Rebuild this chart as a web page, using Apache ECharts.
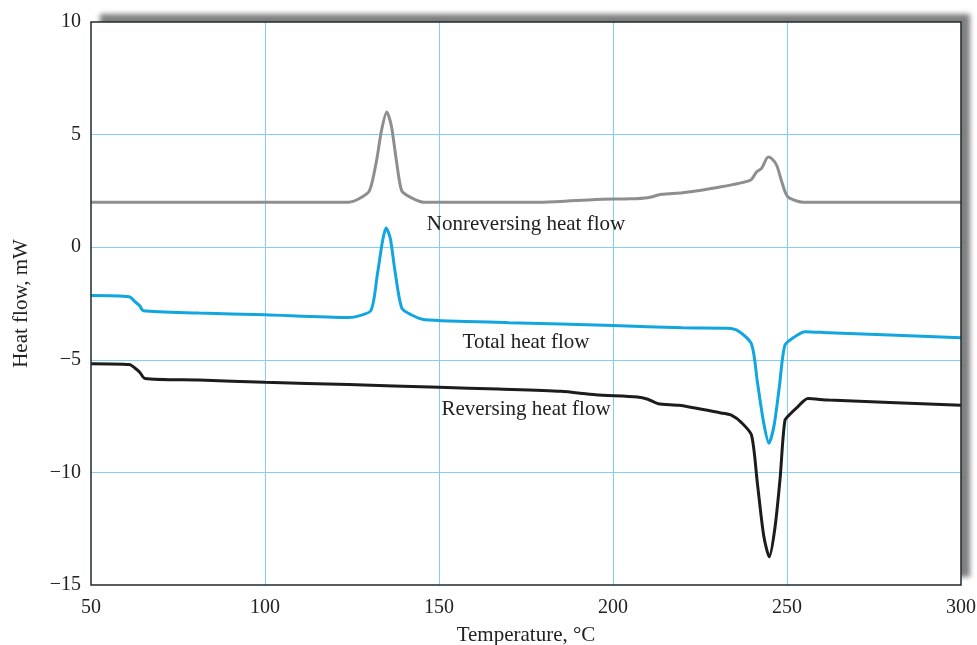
<!DOCTYPE html>
<html>
  <head>
    <meta charset="UTF-8" />
    <title>Heat flow</title>
    <script src="https://cdn.jsdelivr.net/npm/echarts@6.0.0/dist/echarts.min.js"></script>
    <style>
      body { margin: 0; background: #fff; }
    </style>
  </head>
  <body>
    <div id="chart" style="width: 977px; height: 645px"></div>
  </body>
  <script>
    // [temperature °C, heat flow mW]
    const nonreversing = [
      [50, 2.0], [124, 2.0], [127, 2.15], [130, 2.5], [132, 3.8], [133.5, 5.2], [135, 6.0],
      [136.3, 5.4], [137.8, 3.8], [139.3, 2.5], [142, 2.2], [145.5, 2.0], [180, 2.0],
      [195, 2.12], [205, 2.15], [210, 2.2], [214, 2.35], [220, 2.42], [230, 2.65],
      [239.5, 2.98], [241.3, 3.35], [242.7, 3.5], [244.6, 4.0], [245.5, 3.95], [247, 3.65],
      [248.5, 2.9], [249.6, 2.4], [250.5, 2.2], [254.6, 2.0], [300, 2.0]
    ];
    const total = [
      [50, -2.15], [61, -2.2], [62.5, -2.4], [64, -2.6], [65, -2.82], [81, -2.92], [100, -3.0],
      [124, -3.12], [127, -3.05], [130.5, -2.8], [132.3, -1.2], [133.8, 0.3], [134.8, 0.85],
      [136, 0.4], [137.3, -1.0], [139.3, -2.7], [142, -3.0], [146, -3.22], [170, -3.35],
      [200, -3.48], [220, -3.58], [233, -3.6], [236, -3.72], [239.8, -4.3], [241.5, -6.0],
      [243.3, -7.8], [244.8, -8.7], [246.3, -7.9], [247.8, -6.2], [249.4, -4.35], [252, -4.0],
      [255.2, -3.75], [262, -3.8], [300, -4.02]
    ];
    const reversing = [
      [50, -5.17], [61, -5.21], [62.5, -5.35], [64, -5.55], [65.5, -5.83], [81, -5.9],
      [100, -6.0], [124, -6.1], [150, -6.22], [167, -6.3], [185, -6.4], [195, -6.55],
      [207, -6.65], [210, -6.75], [213, -6.95], [219, -7.02], [231, -7.36], [234, -7.46],
      [237, -7.8], [239.8, -8.35], [241.5, -10.5], [243.3, -12.8], [244.9, -13.75],
      [246.5, -12.5], [248, -10.3], [249.4, -7.7], [251, -7.4], [253, -7.1], [256, -6.72],
      [262, -6.79], [300, -7.02]
    ];
    const seriesNames = ['Nonreversing heat flow', 'Total heat flow', 'Reversing heat flow'];
    const labelCoords = [[175, 1.03], [175, -4.25], [175, -7.2]];

    const font = '"Liberation Serif", "DejaVu Serif", serif';
    const minus = v => String(v).replace('-', '\u2212');
    const box = { left: 91, right: 16, top: 22, bottom: 60, outerBoundsMode: 'none' };

    function line(name, data, color, label) {
      return {
        name: name,
        type: 'line',
        data: data,
        showSymbol: false,
        smooth: 0.25,
        lineStyle: { color: color, width: 3 },
        markPoint: {
          symbol: 'circle',
          symbolSize: 1,
          itemStyle: { color: 'rgba(0,0,0,0)' },
          data: [{ coord: label }],
          label: {
            show: true,
            formatter: name,
            position: 'inside',
            fontFamily: font,
            fontSize: 21,
            color: '#222'
          }
        }
      };
    }

    const chart = echarts.init(document.getElementById('chart'));
    chart.setOption({
      animation: false,
      grid: [
        Object.assign({
          show: true,
          backgroundColor: '#fff',
          borderWidth: 0,
          shadowColor: 'rgba(0,0,0,0.5)',
          shadowBlur: 5,
          shadowOffsetX: 9,
          shadowOffsetY: -8
        }, box),
        // plain frame drawn over the plot
        Object.assign({
          show: true,
          z: 5,
          backgroundColor: 'rgba(0,0,0,0)',
          borderColor: '#1e2b30',
          borderWidth: 1.5
        }, box)
      ],
      xAxis: [{
        type: 'value',
        min: 50, max: 300, interval: 50,
        name: 'Temperature, \u00b0C',
        nameLocation: 'middle',
        nameGap: 40,
        nameTextStyle: { fontFamily: font, fontSize: 21, color: '#222' },
        axisLine: { show: false },
        axisTick: { show: false },
        axisLabel: { fontFamily: font, fontSize: 20, color: '#222', margin: 13 },
        splitLine: { showMinLine: false, showMaxLine: false, lineStyle: { color: '#7fd0f0', width: 1 } }
      }, {
        gridIndex: 1, type: 'value', min: 50, max: 300, show: false
      }],
      yAxis: [{
        type: 'value',
        min: -15, max: 10, interval: 5,
        name: 'Heat flow, mW',
        nameLocation: 'middle',
        nameGap: 59,
        nameTextStyle: { fontFamily: font, fontSize: 21, color: '#222' },
        axisLine: { show: false },
        axisTick: { show: false },
        axisLabel: { fontFamily: font, fontSize: 20, color: '#222', margin: 10, formatter: minus },
        splitLine: { showMinLine: false, showMaxLine: false, lineStyle: { color: '#7fd0f0', width: 1 } }
      }, {
        gridIndex: 1, type: 'value', min: -15, max: 10, show: false
      }],
      series: [
        line(seriesNames[0], nonreversing, '#8e8e8e', labelCoords[0]),
        line(seriesNames[1], total, '#12a6e0', labelCoords[1]),
        line(seriesNames[2], reversing, '#1c1c1c', labelCoords[2])
      ]
    });
  </script>
</html>
